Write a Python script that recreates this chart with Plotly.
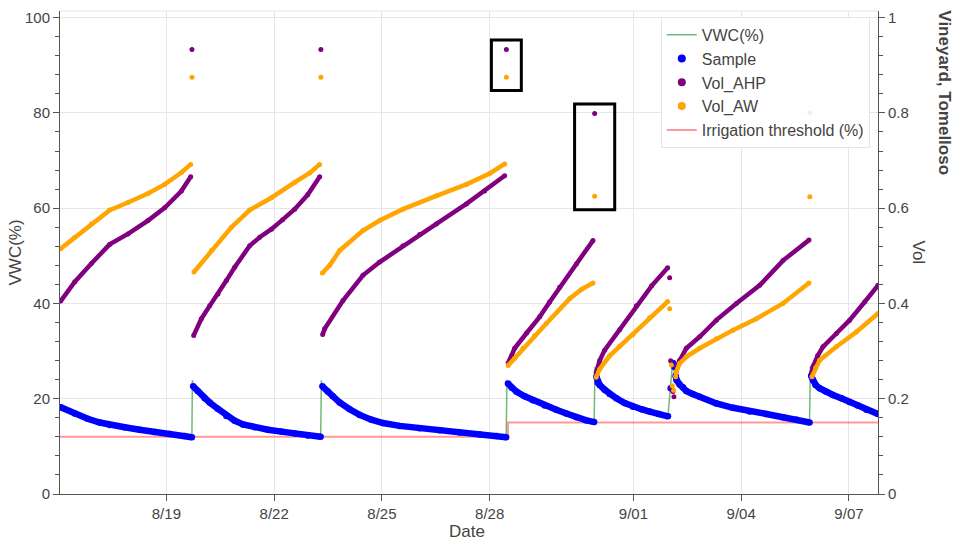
import pandas as pd
import plotly.graph_objects as go

# ---------------- data ----------------
BASE = "2023-08-16 00:00"          # time origin, values below are hours after it

X_TICK_DATES = ["2023-08-19", "2023-08-22", "2023-08-25", "2023-08-28",
                "2023-09-01", "2023-09-04", "2023-09-07"]
X_TICK_TEXT = ["8/19", "8/22", "8/25", "8/28", "9/01", "9/04", "9/07"]
X_RANGE_HOURS = [0.94, 547.4]

# Sample (VWC %) - one list per irrigation cycle
SAMPLE_HOURS = [
    [1.40, 10.75, 19.44, 27.45, 34.13, 44.15, 54.17, 64.19, 74.21, 84.23, 89.04],
    [89.91, 92.92, 97.59, 100.93, 106.28, 112.09, 117.63, 123.18, 131.0, 139.88, 148.83, 157.71, 166.40, 175.08],
    [176.22, 179.76, 183.1, 187.77, 194.45, 201.13, 208.95, 216.7, 227.85, 241.21, 254.57, 267.93, 281.29, 292.65, 299.0],
    [300.2, 302.67, 305.81, 311.35, 316.9, 324.71, 332.53, 339.21, 345.89, 352.1, 357.78],
    [359.25, 360.12, 361.45, 364.79, 368.13, 372.61, 378.15, 383.7, 389.31, 394.85, 400.87, 407.08],
    [412.22, 412.89, 414.89, 417.1, 419.37, 423.58, 428.25, 439.41, 450.5, 461.65, 472.81, 483.9, 493.06, 501.67],
    [502.74, 503.94, 505.74, 508.41, 512.42, 517.3, 522.91, 528.45, 533.8, 539.61, 547.36],
]
SAMPLE_VWC = [
    [18.2, 16.9, 15.8, 15.0, 14.5, 14.0, 13.5, 13.0, 12.6, 12.2, 11.9],
    [22.6, 21.6, 20.1, 19.2, 17.9, 16.4, 15.4, 14.6, 14.0, 13.5, 13.1, 12.7, 12.3, 12.0],
    [22.6, 21.5, 20.5, 19.2, 17.8, 16.6, 15.6, 14.9, 14.3, 13.8, 13.4, 12.9, 12.5, 12.2, 11.9],
    [23.2, 22.3, 21.5, 20.5, 19.7, 18.6, 17.7, 16.9, 16.1, 15.5, 15.1],
    [24.6, 23.4, 22.9, 21.9, 21.0, 20.1, 19.1, 18.3, 17.8, 17.3, 16.8, 16.3],
    [24.8, 23.9, 23.0, 22.4, 21.6, 21.0, 20.4, 19.0, 18.1, 17.3, 16.8, 16.1, 15.6, 15.0],
    [24.8, 23.9, 22.9, 22.2, 21.5, 20.8, 20.1, 19.3, 18.6, 17.7, 16.8],
]
SAMPLE_EXTRA_HOURS = [408.88, 410.42, 411.22]
SAMPLE_EXTRA_VWC = [22.2, 27.5, 26.7]

# VWC(%) peaks recorded at each irrigation
VWC_PEAK_HOURS = [89.38, 175.55, 299.53, 358.32, 410.02, 502.2]
VWC_PEAK_VALUES = [23.9, 23.8, 23.9, 26.7, 27.0, 26.7]

# Vol_AHP (right axis)
AHP_HOURS = [
    [1.40, 10.75, 21.91, 34.13, 46.36, 59.72, 70.87, 82.03, 88.24],
    [90.25, 95.39, 100.93, 106.48, 112.09, 117.63, 127.65, 134.33, 142.15, 149.7, 157.71, 166.4, 174.41],
    [176.42, 177.75, 189.98, 203.34, 214.5, 230.06, 241.21, 252.37, 272.41, 284.63, 297.99],
    [300.33, 302.67, 304.67, 312.69, 321.37, 328.05, 334.73, 345.89, 356.98],
    [359.12, 361.45, 364.79, 374.81, 385.97, 396.19, 406.88],
    [412.69, 414.89, 419.37, 428.25, 439.41, 452.77, 468.33, 483.9, 501.27],
    [503.07, 503.94, 507.08, 510.62, 519.57, 528.45, 538.47, 547.36],
]
AHP_VOL = [
    [0.405, 0.445, 0.484, 0.524, 0.546, 0.574, 0.601, 0.636, 0.666],
    [0.333, 0.368, 0.395, 0.420, 0.448, 0.476, 0.521, 0.539, 0.556, 0.576, 0.598, 0.628, 0.666],
    [0.335, 0.347, 0.406, 0.459, 0.487, 0.521, 0.545, 0.567, 0.609, 0.636, 0.668],
    [0.275, 0.290, 0.306, 0.338, 0.372, 0.403, 0.434, 0.483, 0.532],
    [0.255, 0.280, 0.302, 0.345, 0.395, 0.437, 0.475],
    [0.267, 0.281, 0.306, 0.330, 0.365, 0.400, 0.438, 0.490, 0.533],
    [0.255, 0.267, 0.290, 0.309, 0.337, 0.365, 0.403, 0.438],
]
AHP_EXTRA_HOURS = [408.88, 409.35, 410.42, 411.09]
AHP_EXTRA_VOL = [0.280, 0.225, 0.215, 0.204]
AHP_SPIKE_HOURS = [89.11, 175.22, 299.13, 358.11, 408.22, 501.87]
AHP_SPIKE_VOL = [0.933, 0.933, 0.933, 0.799, 0.454, 0.800]

# Vol_AW (right axis)
AW_HOURS = [
    [1.40, 10.75, 21.91, 34.13, 46.36, 59.72, 70.87, 82.03, 88.24],
    [90.45, 102.07, 115.43, 127.65, 142.15, 157.71, 167.73, 174.41],
    [176.22, 181.1, 187.77, 203.34, 214.5, 230.06, 252.37, 272.41, 287.97, 297.99],
    [300.33, 304.67, 310.22, 318.03, 325.85, 341.41, 349.43, 356.98],
    [359.12, 361.45, 368.13, 374.81, 383.7, 394.85, 406.88],
    [412.22, 412.69, 414.89, 419.37, 428.25, 439.41, 450.5, 466.13, 483.9, 501.27],
    [503.27, 505.74, 508.41, 519.57, 532.93, 547.36],
]
AW_VOL = [
    [0.515, 0.539, 0.567, 0.596, 0.612, 0.631, 0.650, 0.675, 0.692],
    [0.466, 0.511, 0.560, 0.596, 0.622, 0.654, 0.674, 0.692],
    [0.464, 0.480, 0.511, 0.553, 0.574, 0.598, 0.626, 0.650, 0.673, 0.693],
    [0.270, 0.285, 0.306, 0.332, 0.358, 0.410, 0.430, 0.443],
    [0.245, 0.262, 0.290, 0.310, 0.335, 0.370, 0.404],
    [0.246, 0.257, 0.274, 0.288, 0.306, 0.326, 0.344, 0.368, 0.400, 0.443],
    [0.246, 0.265, 0.281, 0.309, 0.340, 0.379],
]
AW_EXTRA_HOURS = [409.35, 410.02, 410.89]
AW_EXTRA_VOL = [0.271, 0.227, 0.218]
AW_SPIKE_HOURS = [89.11, 175.22, 299.13, 358.11, 408.22, 501.87]
AW_SPIKE_VOL = [0.875, 0.875, 0.875, 0.625, 0.389, 0.624]

# Irrigation threshold (%)
THRESH_HOURS = [0.9, 300.2, 548.0]
THRESH_VALUES = [12.0, 15.0, 15.0]

# highlighted spikes (index into the spike lists) and box half-widths in hours
HIGHLIGHT_IDX = [2, 3]
HIGHLIGHT_HALF_HOURS = [10.0, 13.4]

# ---------------- helpers ----------------
T0 = pd.Timestamp(BASE)


def to_time(hours):
    return [None if h is None else T0 + pd.Timedelta(hours=h) for h in hours]


def with_gaps(seg_x, seg_y):
    xs, ys = [], []
    for sx, sy in zip(seg_x, seg_y):
        xs += list(sx) + [None]
        ys += list(sy) + [None]
    return xs, ys


def flat(segs):
    return [v for s in segs for v in s]


BLUE = "#0000ff"
PURPLE = "#800080"
ORANGE = "#ffa500"
GREEN = "rgba(0,128,0,0.55)"
RED = "rgba(255,0,0,0.4)"
FONT = "Arial, Liberation Sans, sans-serif"
TXT = "#444444"
AX = "#555555"
GRID = "#e6e6e6"

fig = go.Figure()

# VWC(%) line = samples + irrigation peaks
vwc_pts = sorted(list(zip(flat(SAMPLE_HOURS), flat(SAMPLE_VWC))) +
                 list(zip(VWC_PEAK_HOURS, VWC_PEAK_VALUES)))
fig.add_trace(go.Scatter(x=to_time([p[0] for p in vwc_pts]), y=[p[1] for p in vwc_pts],
                         mode="lines", line=dict(color=GREEN, width=1.5),
                         name="VWC(%)", showlegend=False, hoverinfo="skip"))

# threshold (under the dots)
fig.add_trace(go.Scatter(x=to_time(THRESH_HOURS), y=THRESH_VALUES, mode="lines",
                         line=dict(color=RED, width=2, shape="hv"),
                         name="Irrigation threshold (%)", showlegend=False))

# Sample
sx, sy = with_gaps(SAMPLE_HOURS, SAMPLE_VWC)
fig.add_trace(go.Scatter(x=to_time(sx), y=sy, mode="lines",
                         line=dict(color=BLUE, width=6.5), showlegend=False))
fig.add_trace(go.Scatter(x=to_time(flat(SAMPLE_HOURS) + SAMPLE_EXTRA_HOURS),
                         y=flat(SAMPLE_VWC) + SAMPLE_EXTRA_VWC, mode="markers",
                         marker=dict(color=BLUE, size=6.5), showlegend=False))

# Vol_AHP
ax_, ay_ = with_gaps(AHP_HOURS, AHP_VOL)
fig.add_trace(go.Scatter(x=to_time(ax_), y=ay_, mode="lines", yaxis="y2",
                         line=dict(color=PURPLE, width=4.5), showlegend=False))
fig.add_trace(go.Scatter(x=to_time(flat(AHP_HOURS) + AHP_EXTRA_HOURS + AHP_SPIKE_HOURS),
                         y=flat(AHP_VOL) + AHP_EXTRA_VOL + AHP_SPIKE_VOL, mode="markers",
                         yaxis="y2", marker=dict(color=PURPLE, size=5), showlegend=False))

# Vol_AW
wx_, wy_ = with_gaps(AW_HOURS, AW_VOL)
fig.add_trace(go.Scatter(x=to_time(wx_), y=wy_, mode="lines", yaxis="y2",
                         line=dict(color=ORANGE, width=4.5), showlegend=False))
fig.add_trace(go.Scatter(x=to_time(flat(AW_HOURS) + AW_EXTRA_HOURS + AW_SPIKE_HOURS),
                         y=flat(AW_VOL) + AW_EXTRA_VOL + AW_SPIKE_VOL, mode="markers",
                         yaxis="y2", marker=dict(color=ORANGE, size=5), showlegend=False))

# legend entries
legend_specs = [
    ("VWC(%)", "lines", dict(color=GREEN, width=1.5), None),
    ("Sample", "markers", None, dict(color=BLUE, size=8)),
    ("Vol_AHP", "markers", None, dict(color=PURPLE, size=8)),
    ("Vol_AW", "markers", None, dict(color=ORANGE, size=8)),
    ("Irrigation threshold (%)", "lines", dict(color=RED, width=2), None),
]
for rank, (nm, md, ln, mk) in enumerate(legend_specs):
    kw = dict(x=[None], y=[None], mode=md, name=nm, showlegend=True, legendrank=rank + 1)
    if ln:
        kw["line"] = ln
    if mk:
        kw["marker"] = mk
    fig.add_trace(go.Scatter(**kw))

# highlight boxes around spikes
shapes = [dict(type="line", xref="paper", yref="paper", x0=0, x1=1, y0=1, y1=1,
               line=dict(color="#e5e5e5", width=1))]
for idx, half in zip(HIGHLIGHT_IDX, HIGHLIGHT_HALF_HOURS):
    hc = (AHP_SPIKE_HOURS[idx] + AW_SPIKE_HOURS[idx]) / 2
    top = max(AHP_SPIKE_VOL[idx], AW_SPIKE_VOL[idx]) + 0.02
    bot = min(AHP_SPIKE_VOL[idx], AW_SPIKE_VOL[idx]) - 0.028
    shapes.append(dict(type="rect", xref="x", yref="y2",
                       x0=T0 + pd.Timedelta(hours=hc - half),
                       x1=T0 + pd.Timedelta(hours=hc + half),
                       y0=bot, y1=top, line=dict(color="black", width=3),
                       fillcolor="rgba(0,0,0,0)"))

tickfont = dict(family=FONT, size=15, color=TXT)
fig.update_layout(
    width=957, height=541,
    margin=dict(l=60, r=79, t=9, b=47),
    paper_bgcolor="white", plot_bgcolor="white",
    font=dict(family=FONT, color=TXT),
    showlegend=True,
    legend=dict(x=0.99, xanchor="right", y=0.988, yanchor="top",
                bgcolor="rgba(255,255,255,0.92)", bordercolor="#e5e5e5", borderwidth=1,
                font=dict(family=FONT, size=16, color=TXT), tracegroupgap=0,
                itemwidth=30),
    xaxis=dict(type="date",
               range=to_time(X_RANGE_HOURS),
               tickvals=X_TICK_DATES, ticktext=X_TICK_TEXT,
               ticks="outside", ticklen=6, tickcolor=AX,
               showline=True, linecolor=AX, linewidth=1,
               showgrid=True, gridcolor=GRID, zeroline=False, tickfont=tickfont),
    yaxis=dict(range=[0, 101.4], tick0=0, dtick=20, ticks="outside", ticklen=6,
               tickcolor=AX, showline=True, linecolor=AX, linewidth=1,
               showgrid=True, gridcolor=GRID, zeroline=False, tickfont=tickfont,
               minor=dict(tick0=0, dtick=4, ticks="outside", ticklen=4, tickcolor=AX,
                          showgrid=False)),
    yaxis2=dict(range=[0, 1.014], tick0=0, dtick=0.2, overlaying="y", side="right",
                ticks="outside", ticklen=6, tickcolor=AX, showline=True, linecolor=AX,
                linewidth=1, showgrid=False, zeroline=False, tickfont=tickfont,
                minor=dict(tick0=0, dtick=0.04, ticks="outside", ticklen=4,
                           tickcolor=AX, showgrid=False)),
    shapes=shapes,
    annotations=[
        dict(text="Date", xref="paper", yref="paper", x=0.498, y=-0.078,
             xanchor="center", yanchor="middle", showarrow=False,
             font=dict(family=FONT, size=17, color=TXT)),
        dict(text="VWC(%)", xref="paper", yref="paper", x=-0.0538, y=0.5,
             xanchor="center", yanchor="middle", textangle=-90, showarrow=False,
             font=dict(family=FONT, size=17, color=TXT)),
        dict(text="Vol", xref="paper", yref="paper", x=1.0489, y=0.5,
             xanchor="center", yanchor="middle", textangle=90, showarrow=False,
             font=dict(family=FONT, size=17, color=TXT)),
        dict(text="<b>Vineyard, Tomelloso</b>", xref="paper", yref="paper",
             x=1.0819, y=0.8295, xanchor="center", yanchor="middle", textangle=90,
             showarrow=False, font=dict(family=FONT, size=17, color=TXT)),
    ],
)

fig.write_html("out.html")
